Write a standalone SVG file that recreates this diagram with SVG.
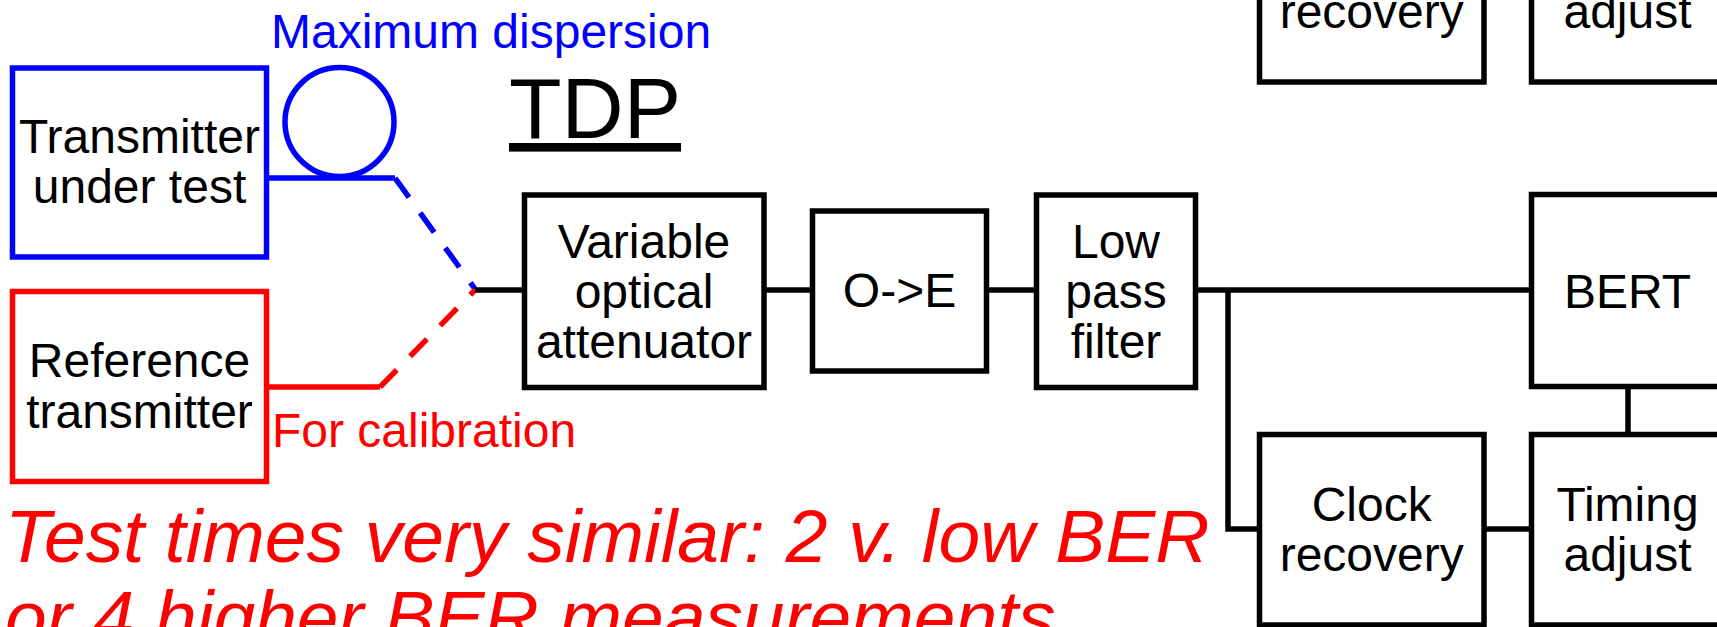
<svg xmlns="http://www.w3.org/2000/svg" width="1717" height="627" viewBox="0 0 1717 627">
<style>
.box{fill:#fff;stroke:#000;stroke-width:5.5}
.t{font-family:"Liberation Sans",Arial,sans-serif;font-size:48px;fill:#000;text-anchor:middle}
.w{fill:none;stroke:#000;stroke-width:5.5}
.blue{stroke:#0000FF}
.red{stroke:#FF0000}
.dash{stroke-dasharray:24 19}
</style>
<rect width="1717" height="627" fill="#fff"/>
<g id="connectors">
<path class="w blue" d="M266.5 178 H395"/>
<path class="w blue dash" d="M395 178 L475 289"/>
<path class="w red" d="M266.5 387 H380"/>
<path class="w red dash" d="M380 387 L475 290"/>
<path class="w" d="M475 290 H524.5"/>
<path class="w" d="M764 290 H812.5"/>
<path class="w" d="M986.5 290 H1036.5"/>
<path class="w" d="M1195.5 290 H1531.5"/>
<path class="w" d="M1228 290 V529 H1259.5"/>
<path class="w" d="M1484 529 H1531.5"/>
<path class="w" d="M1628 386.5 V434.5"/>
</g>
<g id="transmitter">
<rect x="12.5" y="68" width="254" height="189" style="fill:none;stroke:#0000FF;stroke-width:5.5"/>
<text class="t" x="139.5" y="153">Transmitter</text>
<text class="t" x="139.5" y="203">under test</text>
</g>
<g id="coil">
<circle cx="339.5" cy="122" r="54.5" fill="none" stroke="#0000FF" stroke-width="5.5"/>
<text x="271" y="48" style="font-family:'Liberation Sans',Arial,sans-serif;font-size:48px;fill:#0000FF">Maximum dispersion</text>
</g>
<g id="reference">
<rect x="12.5" y="291.5" width="254" height="190" style="fill:none;stroke:#FF0000;stroke-width:5.5"/>
<text class="t" x="139.5" y="377">Reference</text>
<text class="t" x="139.5" y="428">transmitter</text>
<text x="272" y="447" style="font-family:'Liberation Sans',Arial,sans-serif;font-size:48px;fill:#FF0000">For calibration</text>
</g>
<g id="title">
<text x="509" y="138" text-decoration="underline" style="font-family:'Liberation Sans',Arial,sans-serif;font-size:86px;fill:#000">TDP</text>
</g>
<g id="voa">
<rect class="box" x="524.5" y="195" width="239.5" height="192.5"/>
<text class="t" x="644" y="258">Variable</text>
<text class="t" x="644" y="308">optical</text>
<text class="t" x="644" y="358">attenuator</text>
</g>
<g id="oe">
<rect class="box" x="812.5" y="211" width="174" height="160"/>
<text class="t" x="899.5" y="307">O-&gt;E</text>
</g>
<g id="lpf">
<rect class="box" x="1036.5" y="195" width="159" height="192.5"/>
<text class="t" x="1116" y="258">Low</text>
<text class="t" x="1116" y="308">pass</text>
<text class="t" x="1116" y="358">filter</text>
</g>
<g id="bert">
<rect class="box" x="1531.5" y="194.5" width="200" height="192"/>
<text class="t" x="1627.5" y="308">BERT</text>
</g>
<g id="clock-top">
<rect class="box" x="1259.5" y="-108" width="224.5" height="190"/>
<text class="t" x="1371.7" y="28">recovery</text>
</g>
<g id="timing-top">
<rect class="box" x="1531.5" y="-108" width="200" height="190"/>
<text class="t" x="1627.5" y="28">adjust</text>
</g>
<g id="clock">
<rect class="box" x="1259.5" y="434.5" width="224.5" height="190.5"/>
<text class="t" x="1371.7" y="521">Clock</text>
<text class="t" x="1371.7" y="571">recovery</text>
</g>
<g id="timing">
<rect class="box" x="1531.5" y="434.5" width="200" height="190.5"/>
<text class="t" x="1627.5" y="521">Timing</text>
<text class="t" x="1627.5" y="571">adjust</text>
</g>
<g id="note" style="font-family:'Liberation Sans',Arial,sans-serif;font-size:75px;font-style:italic;fill:#FF0000">
<text x="5" y="562">Test times very similar: 2 v. low BER</text>
<text x="5" y="643">or 4 higher BER measurements</text>
</g>
</svg>
